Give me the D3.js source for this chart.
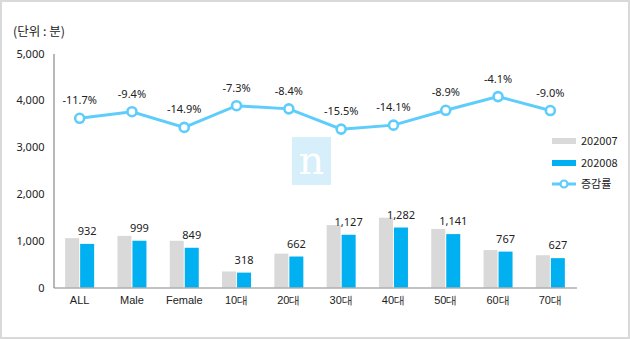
<!DOCTYPE html>
<html>
<head>
<meta charset="utf-8">
<script src="https://cdn.jsdelivr.net/npm/d3@7"></script>
<style>
  html, body { margin: 0; padding: 0; background: #fff; }
  svg { display: block; font-family: "Noto Sans CJK KR", "Noto Sans", sans-serif; }
</style>
</head>
<body>
<svg id="chart" width="630" height="339"></svg>
<script>
// Categories and series (minutes)
const categories = ["ALL", "Male", "Female", "10대", "20대", "30대", "40대", "50대", "60대", "70대"];
const july   = [1055, 1103, 998, 343, 723, 1334, 1492, 1252, 800, 689];   // 202007
const august = [932, 999, 849, 318, 662, 1127, 1282, 1141, 767, 627];     // 202008
const change = [-11.7, -9.4, -14.9, -7.3, -8.4, -15.5, -14.1, -8.9, -4.1, -9.0]; // 증감률 (%)
const yTicks = [0, 1000, 2000, 3000, 4000, 5000];
const seriesNames = ["202007", "202008", "증감률"];

const colors = { july: "#d9d9d9", august: "#00b0f0", line: "#5ecdfb" };

const svg = d3.select("#chart");
const W = 630, H = 339;
const plot = { left: 53.5, right: 576.5, top: 53.5, bottom: 287.5 };

// frame
svg.append("rect")
  .attr("x", 1).attr("y", 1).attr("width", W - 2).attr("height", H - 2)
  .attr("fill", "#fff").attr("stroke", "#d9d9d9").attr("stroke-width", 2);

const x = d3.scaleBand().domain(categories).range([plot.left, plot.right]);
const y = d3.scaleLinear().domain([0, 5000]).range([plot.bottom, plot.top]);
// hidden secondary scale for the change rate
const y2 = d3.scaleLinear().domain([-71, 11]).range([plot.bottom, plot.top]);

// plain hyphen for negative numbers
const pct = d => d3.format(".1f")(d).replace("\u2212", "-") + "%";

// unit label
svg.append("text").attr("x", 13).attr("y", 36)
  .attr("font-size", 12.5).attr("fill", "#222").text("(단위 : 분)");

// watermark badge
const wm = svg.append("g");
wm.append("rect").attr("x", 292).attr("y", 137).attr("width", 39).attr("height", 48)
  .attr("fill", "#d6effa");
wm.append("text").attr("x", 311.5).attr("y", 174).attr("text-anchor", "middle")
  .attr("font-family", "'DejaVu Serif', serif").attr("font-size", 40)
  .attr("fill", "#fff").text("n");

// y axis labels
const yAxis = d3.axisLeft(y).tickValues(yTicks).tickSize(0).tickPadding(9)
  .tickFormat(d3.format(","));
const ya = svg.append("g").attr("transform", `translate(${plot.left},0)`).call(yAxis);
ya.select(".domain").attr("stroke", "#888").attr("stroke-width", 1.2);
ya.selectAll("text").attr("font-size", 11).attr("fill", "#222")
  .attr("font-family", "'Noto Sans', sans-serif");

// bars
const bw = 14;
const g = svg.append("g");
categories.forEach((c, i) => {
  const cx = x(c) + x.bandwidth() / 2;
  g.append("rect").attr("x", cx - bw - 0.5).attr("width", bw)
    .attr("y", y(july[i])).attr("height", y(0) - y(july[i])).attr("fill", colors.july);
  g.append("rect").attr("x", cx + 0.5).attr("width", bw)
    .attr("y", y(august[i])).attr("height", y(0) - y(august[i])).attr("fill", colors.august);
  g.append("text").attr("x", cx + 0.5 + bw / 2).attr("y", y(august[i]) - 9)
    .attr("text-anchor", "middle").attr("font-size", 11).attr("fill", "#222")
    .attr("font-family", "'Noto Sans', sans-serif")
    .text(d3.format(",")(august[i]));
});

// x axis
const xAxis = d3.axisBottom(x).tickSize(0).tickPadding(9);
const xa = svg.append("g").attr("transform", `translate(0,${plot.bottom})`).call(xAxis);
xa.select(".domain").attr("stroke", "#888").attr("stroke-width", 1.2);
xa.selectAll("text").attr("font-size", 11).attr("fill", "#222");

// change-rate line (secondary scale)
const lx = (d, i) => x(categories[i]) + x.bandwidth() / 2;
const line = d3.line().x(lx).y(d => y2(d));
svg.append("path").datum(change).attr("d", line)
  .attr("fill", "none").attr("stroke", colors.line).attr("stroke-width", 3);
svg.selectAll("circle.pt").data(change).enter().append("circle")
  .attr("class", "pt").attr("cx", lx).attr("cy", d => y2(d)).attr("r", 4.5)
  .attr("fill", "#fff").attr("stroke", colors.line).attr("stroke-width", 2.6);
svg.selectAll("text.pct").data(change).enter().append("text")
  .attr("class", "pct").attr("x", lx).attr("y", d => y2(d) - 14)
  .attr("text-anchor", "middle").attr("font-size", 11).attr("fill", "#222")
  .attr("font-family", "'Noto Sans', sans-serif")
  .text(pct);

// legend
const lg = svg.append("g");
lg.append("rect").attr("x", 552).attr("y", 138).attr("width", 24).attr("height", 6).attr("fill", colors.july);
lg.append("rect").attr("x", 552).attr("y", 160).attr("width", 24).attr("height", 6).attr("fill", colors.august);
lg.append("line").attr("x1", 552).attr("x2", 576).attr("y1", 184).attr("y2", 184)
  .attr("stroke", colors.line).attr("stroke-width", 3);
lg.append("circle").attr("cx", 564).attr("cy", 184).attr("r", 3.5)
  .attr("fill", "#fff").attr("stroke", colors.line).attr("stroke-width", 2.2);
[141, 163, 184].forEach((ty, i) => {
  lg.append("text").attr("x", 581).attr("y", ty + 4).attr("font-size", 11)
    .attr("fill", "#222").text(seriesNames[i]);
});
</script>
</body>
</html>
